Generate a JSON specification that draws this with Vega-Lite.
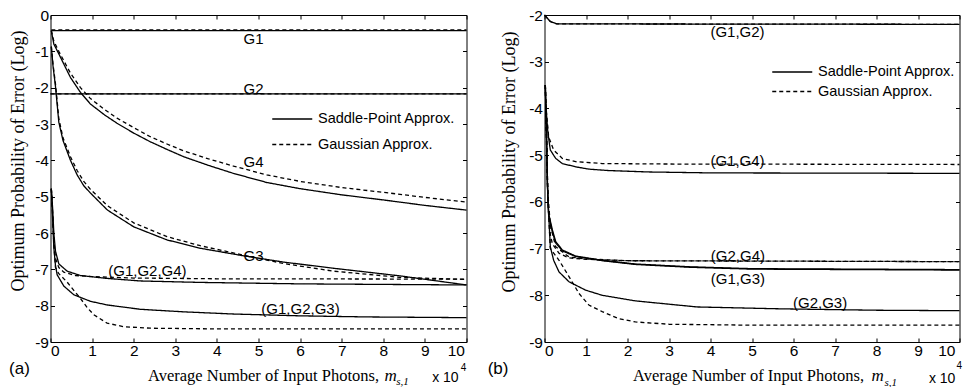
{
  "$schema": "https://vega.github.io/schema/vega-lite/v6.json",
  "background": "white",
  "padding": {"left": 8.5, "top": 7, "right": 0, "bottom": 0},
  "bounds": "flush",
  "spacing": 78,
  "config": {
    "view": {"stroke": "black", "strokeWidth": 1},
    "axis": {
      "grid": false, "domain": false, "tickColor": "black", "tickSize": -4, "tickWidth": 1,
      "labelFont": "Liberation Sans", "labelFontSize": 15.5, "labelColor": "black",
      "titleFont": "Liberation Serif", "titleFontSize": 16.5, "titleFontWeight": "normal", "titleColor": "black"
    },
    "legend": {
      "orient": "none", "title": null, "symbolType": "M-4,0H4", "symbolSize": 100,
      "symbolStrokeWidth": 1.3, "symbolStrokeColor": "black",
      "labelFont": "Liberation Sans", "labelFontSize": 14.5, "labelColor": "black",
      "labelOffset": 18.5, "padding": 0
    },
    "text": {"font": "Liberation Sans", "color": "black"}
  },
  "datasets": {
    "curvesA": [
      {"curve": "G1", "method": "Saddle-Point Approx.", "x": 0.02, "y": -0.43},
      {"curve": "G1", "method": "Saddle-Point Approx.", "x": 10, "y": -0.43},
      {"curve": "G1", "method": "Gaussian Approx.", "x": 0.02, "y": -0.41},
      {"curve": "G1", "method": "Gaussian Approx.", "x": 10, "y": -0.41},
      {"curve": "G2", "method": "Saddle-Point Approx.", "x": 0, "y": -2.17},
      {"curve": "G2", "method": "Saddle-Point Approx.", "x": 10, "y": -2.17},
      {"curve": "G2", "method": "Gaussian Approx.", "x": 0, "y": -2.17},
      {"curve": "G2", "method": "Gaussian Approx.", "x": 10, "y": -2.17},
      {"curve": "G4", "method": "Saddle-Point Approx.", "x": 0.02, "y": -0.43},
      {"curve": "G4", "method": "Saddle-Point Approx.", "x": 0.08, "y": -0.8},
      {"curve": "G4", "method": "Saddle-Point Approx.", "x": 0.2, "y": -1.07},
      {"curve": "G4", "method": "Saddle-Point Approx.", "x": 0.32, "y": -1.35},
      {"curve": "G4", "method": "Saddle-Point Approx.", "x": 0.48, "y": -1.72},
      {"curve": "G4", "method": "Saddle-Point Approx.", "x": 0.72, "y": -2.13},
      {"curve": "G4", "method": "Saddle-Point Approx.", "x": 0.96, "y": -2.45},
      {"curve": "G4", "method": "Saddle-Point Approx.", "x": 1.3, "y": -2.75},
      {"curve": "G4", "method": "Saddle-Point Approx.", "x": 1.6, "y": -2.98},
      {"curve": "G4", "method": "Saddle-Point Approx.", "x": 2.0, "y": -3.25},
      {"curve": "G4", "method": "Saddle-Point Approx.", "x": 2.4, "y": -3.49},
      {"curve": "G4", "method": "Saddle-Point Approx.", "x": 2.8, "y": -3.7},
      {"curve": "G4", "method": "Saddle-Point Approx.", "x": 3.2, "y": -3.9},
      {"curve": "G4", "method": "Saddle-Point Approx.", "x": 3.8, "y": -4.14},
      {"curve": "G4", "method": "Saddle-Point Approx.", "x": 4.4, "y": -4.36},
      {"curve": "G4", "method": "Saddle-Point Approx.", "x": 5.2, "y": -4.61},
      {"curve": "G4", "method": "Saddle-Point Approx.", "x": 6.0, "y": -4.78},
      {"curve": "G4", "method": "Saddle-Point Approx.", "x": 7.0, "y": -4.95},
      {"curve": "G4", "method": "Saddle-Point Approx.", "x": 8.0, "y": -5.09},
      {"curve": "G4", "method": "Saddle-Point Approx.", "x": 9.0, "y": -5.24},
      {"curve": "G4", "method": "Saddle-Point Approx.", "x": 10, "y": -5.37},
      {"curve": "G4", "method": "Gaussian Approx.", "x": 0.02, "y": -0.43},
      {"curve": "G4", "method": "Gaussian Approx.", "x": 0.08, "y": -0.72},
      {"curve": "G4", "method": "Gaussian Approx.", "x": 0.2, "y": -1.0},
      {"curve": "G4", "method": "Gaussian Approx.", "x": 0.32, "y": -1.26},
      {"curve": "G4", "method": "Gaussian Approx.", "x": 0.48, "y": -1.6},
      {"curve": "G4", "method": "Gaussian Approx.", "x": 0.72, "y": -2.0},
      {"curve": "G4", "method": "Gaussian Approx.", "x": 0.96, "y": -2.3},
      {"curve": "G4", "method": "Gaussian Approx.", "x": 1.3, "y": -2.6},
      {"curve": "G4", "method": "Gaussian Approx.", "x": 1.6, "y": -2.84},
      {"curve": "G4", "method": "Gaussian Approx.", "x": 2.0, "y": -3.1},
      {"curve": "G4", "method": "Gaussian Approx.", "x": 2.4, "y": -3.35},
      {"curve": "G4", "method": "Gaussian Approx.", "x": 2.8, "y": -3.55},
      {"curve": "G4", "method": "Gaussian Approx.", "x": 3.2, "y": -3.74},
      {"curve": "G4", "method": "Gaussian Approx.", "x": 3.8, "y": -3.96},
      {"curve": "G4", "method": "Gaussian Approx.", "x": 4.4, "y": -4.16},
      {"curve": "G4", "method": "Gaussian Approx.", "x": 5.2, "y": -4.4},
      {"curve": "G4", "method": "Gaussian Approx.", "x": 6.0, "y": -4.58},
      {"curve": "G4", "method": "Gaussian Approx.", "x": 7.0, "y": -4.75},
      {"curve": "G4", "method": "Gaussian Approx.", "x": 8.0, "y": -4.88},
      {"curve": "G4", "method": "Gaussian Approx.", "x": 9.0, "y": -5.02},
      {"curve": "G4", "method": "Gaussian Approx.", "x": 10, "y": -5.15},
      {"curve": "G3", "method": "Saddle-Point Approx.", "x": 0.02, "y": -0.87},
      {"curve": "G3", "method": "Saddle-Point Approx.", "x": 0.06, "y": -1.4},
      {"curve": "G3", "method": "Saddle-Point Approx.", "x": 0.12, "y": -1.97},
      {"curve": "G3", "method": "Saddle-Point Approx.", "x": 0.2, "y": -2.95},
      {"curve": "G3", "method": "Saddle-Point Approx.", "x": 0.3, "y": -3.45},
      {"curve": "G3", "method": "Saddle-Point Approx.", "x": 0.48, "y": -4.0},
      {"curve": "G3", "method": "Saddle-Point Approx.", "x": 0.64, "y": -4.4},
      {"curve": "G3", "method": "Saddle-Point Approx.", "x": 0.8, "y": -4.7},
      {"curve": "G3", "method": "Saddle-Point Approx.", "x": 0.96, "y": -4.9},
      {"curve": "G3", "method": "Saddle-Point Approx.", "x": 1.37, "y": -5.37},
      {"curve": "G3", "method": "Saddle-Point Approx.", "x": 2.0, "y": -5.83},
      {"curve": "G3", "method": "Saddle-Point Approx.", "x": 2.8, "y": -6.19},
      {"curve": "G3", "method": "Saddle-Point Approx.", "x": 3.6, "y": -6.42},
      {"curve": "G3", "method": "Saddle-Point Approx.", "x": 4.6, "y": -6.62},
      {"curve": "G3", "method": "Saddle-Point Approx.", "x": 5.6, "y": -6.8},
      {"curve": "G3", "method": "Saddle-Point Approx.", "x": 6.8, "y": -6.97},
      {"curve": "G3", "method": "Saddle-Point Approx.", "x": 8.4, "y": -7.18},
      {"curve": "G3", "method": "Saddle-Point Approx.", "x": 10, "y": -7.43},
      {"curve": "G3", "method": "Gaussian Approx.", "x": 0.02, "y": -0.87},
      {"curve": "G3", "method": "Gaussian Approx.", "x": 0.06, "y": -1.35},
      {"curve": "G3", "method": "Gaussian Approx.", "x": 0.12, "y": -1.9},
      {"curve": "G3", "method": "Gaussian Approx.", "x": 0.2, "y": -2.85},
      {"curve": "G3", "method": "Gaussian Approx.", "x": 0.3, "y": -3.38},
      {"curve": "G3", "method": "Gaussian Approx.", "x": 0.48, "y": -3.9},
      {"curve": "G3", "method": "Gaussian Approx.", "x": 0.64, "y": -4.28},
      {"curve": "G3", "method": "Gaussian Approx.", "x": 0.8, "y": -4.58},
      {"curve": "G3", "method": "Gaussian Approx.", "x": 0.96, "y": -4.8},
      {"curve": "G3", "method": "Gaussian Approx.", "x": 1.37, "y": -5.25},
      {"curve": "G3", "method": "Gaussian Approx.", "x": 2.0, "y": -5.72},
      {"curve": "G3", "method": "Gaussian Approx.", "x": 2.8, "y": -6.1},
      {"curve": "G3", "method": "Gaussian Approx.", "x": 3.6, "y": -6.35},
      {"curve": "G3", "method": "Gaussian Approx.", "x": 4.6, "y": -6.6},
      {"curve": "G3", "method": "Gaussian Approx.", "x": 5.6, "y": -6.84},
      {"curve": "G3", "method": "Gaussian Approx.", "x": 6.8, "y": -7.05},
      {"curve": "G3", "method": "Gaussian Approx.", "x": 8.4, "y": -7.22},
      {"curve": "G3", "method": "Gaussian Approx.", "x": 10, "y": -7.28},
      {"curve": "G1G2G4", "method": "Saddle-Point Approx.", "x": 0.02, "y": -4.78},
      {"curve": "G1G2G4", "method": "Saddle-Point Approx.", "x": 0.05, "y": -5.3},
      {"curve": "G1G2G4", "method": "Saddle-Point Approx.", "x": 0.08, "y": -6.0},
      {"curve": "G1G2G4", "method": "Saddle-Point Approx.", "x": 0.12, "y": -6.5},
      {"curve": "G1G2G4", "method": "Saddle-Point Approx.", "x": 0.2, "y": -6.85},
      {"curve": "G1G2G4", "method": "Saddle-Point Approx.", "x": 0.4, "y": -7.05},
      {"curve": "G1G2G4", "method": "Saddle-Point Approx.", "x": 0.72, "y": -7.17},
      {"curve": "G1G2G4", "method": "Saddle-Point Approx.", "x": 1.36, "y": -7.25},
      {"curve": "G1G2G4", "method": "Saddle-Point Approx.", "x": 2.16, "y": -7.32},
      {"curve": "G1G2G4", "method": "Saddle-Point Approx.", "x": 3.6, "y": -7.36},
      {"curve": "G1G2G4", "method": "Saddle-Point Approx.", "x": 6.0, "y": -7.4},
      {"curve": "G1G2G4", "method": "Saddle-Point Approx.", "x": 10, "y": -7.43},
      {"curve": "G1G2G4", "method": "Gaussian Approx.", "x": 0.02, "y": -4.78},
      {"curve": "G1G2G4", "method": "Gaussian Approx.", "x": 0.05, "y": -5.4},
      {"curve": "G1G2G4", "method": "Gaussian Approx.", "x": 0.08, "y": -6.2},
      {"curve": "G1G2G4", "method": "Gaussian Approx.", "x": 0.12, "y": -6.7},
      {"curve": "G1G2G4", "method": "Gaussian Approx.", "x": 0.2, "y": -6.95},
      {"curve": "G1G2G4", "method": "Gaussian Approx.", "x": 0.32, "y": -7.08},
      {"curve": "G1G2G4", "method": "Gaussian Approx.", "x": 0.6, "y": -7.17},
      {"curve": "G1G2G4", "method": "Gaussian Approx.", "x": 1.0, "y": -7.2},
      {"curve": "G1G2G4", "method": "Gaussian Approx.", "x": 2.0, "y": -7.24},
      {"curve": "G1G2G4", "method": "Gaussian Approx.", "x": 4.0, "y": -7.26},
      {"curve": "G1G2G4", "method": "Gaussian Approx.", "x": 10, "y": -7.27},
      {"curve": "G1G2G3", "method": "Saddle-Point Approx.", "x": 0.02, "y": -4.78},
      {"curve": "G1G2G3", "method": "Saddle-Point Approx.", "x": 0.05, "y": -5.6},
      {"curve": "G1G2G3", "method": "Saddle-Point Approx.", "x": 0.08, "y": -6.4},
      {"curve": "G1G2G3", "method": "Saddle-Point Approx.", "x": 0.12, "y": -6.9},
      {"curve": "G1G2G3", "method": "Saddle-Point Approx.", "x": 0.16, "y": -7.15},
      {"curve": "G1G2G3", "method": "Saddle-Point Approx.", "x": 0.32, "y": -7.46},
      {"curve": "G1G2G3", "method": "Saddle-Point Approx.", "x": 0.56, "y": -7.7},
      {"curve": "G1G2G3", "method": "Saddle-Point Approx.", "x": 0.96, "y": -7.88},
      {"curve": "G1G2G3", "method": "Saddle-Point Approx.", "x": 1.36, "y": -7.98},
      {"curve": "G1G2G3", "method": "Saddle-Point Approx.", "x": 2.16, "y": -8.1},
      {"curve": "G1G2G3", "method": "Saddle-Point Approx.", "x": 3.2, "y": -8.17},
      {"curve": "G1G2G3", "method": "Saddle-Point Approx.", "x": 4.4, "y": -8.23},
      {"curve": "G1G2G3", "method": "Saddle-Point Approx.", "x": 6.0, "y": -8.28},
      {"curve": "G1G2G3", "method": "Saddle-Point Approx.", "x": 7.6, "y": -8.31},
      {"curve": "G1G2G3", "method": "Saddle-Point Approx.", "x": 10, "y": -8.33},
      {"curve": "G1G2G3", "method": "Gaussian Approx.", "x": 0.02, "y": -4.78},
      {"curve": "G1G2G3", "method": "Gaussian Approx.", "x": 0.05, "y": -5.5},
      {"curve": "G1G2G3", "method": "Gaussian Approx.", "x": 0.08, "y": -6.3},
      {"curve": "G1G2G3", "method": "Gaussian Approx.", "x": 0.12, "y": -6.95},
      {"curve": "G1G2G3", "method": "Gaussian Approx.", "x": 0.2, "y": -7.12},
      {"curve": "G1G2G3", "method": "Gaussian Approx.", "x": 0.4, "y": -7.35},
      {"curve": "G1G2G3", "method": "Gaussian Approx.", "x": 0.56, "y": -7.58},
      {"curve": "G1G2G3", "method": "Gaussian Approx.", "x": 0.72, "y": -7.8},
      {"curve": "G1G2G3", "method": "Gaussian Approx.", "x": 0.88, "y": -8.05},
      {"curve": "G1G2G3", "method": "Gaussian Approx.", "x": 1.04, "y": -8.25},
      {"curve": "G1G2G3", "method": "Gaussian Approx.", "x": 1.36, "y": -8.48},
      {"curve": "G1G2G3", "method": "Gaussian Approx.", "x": 1.76, "y": -8.58},
      {"curve": "G1G2G3", "method": "Gaussian Approx.", "x": 2.4, "y": -8.62},
      {"curve": "G1G2G3", "method": "Gaussian Approx.", "x": 4.0, "y": -8.64},
      {"curve": "G1G2G3", "method": "Gaussian Approx.", "x": 10, "y": -8.64}
    ],
    "curvesB": [
      {"curve": "G1G2", "method": "Saddle-Point Approx.", "x": 0.0, "y": -2.0},
      {"curve": "G1G2", "method": "Saddle-Point Approx.", "x": 0.14, "y": -2.14},
      {"curve": "G1G2", "method": "Saddle-Point Approx.", "x": 0.3, "y": -2.19},
      {"curve": "G1G2", "method": "Saddle-Point Approx.", "x": 10, "y": -2.2},
      {"curve": "G1G2", "method": "Gaussian Approx.", "x": 0.0, "y": -2.0},
      {"curve": "G1G2", "method": "Gaussian Approx.", "x": 0.14, "y": -2.14},
      {"curve": "G1G2", "method": "Gaussian Approx.", "x": 0.3, "y": -2.19},
      {"curve": "G1G2", "method": "Gaussian Approx.", "x": 10, "y": -2.2},
      {"curve": "G1G4", "method": "Saddle-Point Approx.", "x": 0.03, "y": -3.9},
      {"curve": "G1G4", "method": "Saddle-Point Approx.", "x": 0.08, "y": -4.5},
      {"curve": "G1G4", "method": "Saddle-Point Approx.", "x": 0.14, "y": -4.89},
      {"curve": "G1G4", "method": "Saddle-Point Approx.", "x": 0.27, "y": -5.07},
      {"curve": "G1G4", "method": "Saddle-Point Approx.", "x": 0.43, "y": -5.18},
      {"curve": "G1G4", "method": "Saddle-Point Approx.", "x": 0.75, "y": -5.25},
      {"curve": "G1G4", "method": "Saddle-Point Approx.", "x": 1.07, "y": -5.3},
      {"curve": "G1G4", "method": "Saddle-Point Approx.", "x": 1.55, "y": -5.33},
      {"curve": "G1G4", "method": "Saddle-Point Approx.", "x": 2.5, "y": -5.36},
      {"curve": "G1G4", "method": "Saddle-Point Approx.", "x": 4.0, "y": -5.38},
      {"curve": "G1G4", "method": "Saddle-Point Approx.", "x": 10, "y": -5.39},
      {"curve": "G1G4", "method": "Gaussian Approx.", "x": 0.03, "y": -3.9},
      {"curve": "G1G4", "method": "Gaussian Approx.", "x": 0.1, "y": -4.61},
      {"curve": "G1G4", "method": "Gaussian Approx.", "x": 0.22, "y": -4.89},
      {"curve": "G1G4", "method": "Gaussian Approx.", "x": 0.43, "y": -5.07},
      {"curve": "G1G4", "method": "Gaussian Approx.", "x": 0.75, "y": -5.14},
      {"curve": "G1G4", "method": "Gaussian Approx.", "x": 1.39, "y": -5.18},
      {"curve": "G1G4", "method": "Gaussian Approx.", "x": 3.0, "y": -5.19},
      {"curve": "G1G4", "method": "Gaussian Approx.", "x": 10, "y": -5.2},
      {"curve": "G2G4", "method": "Saddle-Point Approx.", "x": 0.02, "y": -3.5},
      {"curve": "G2G4", "method": "Saddle-Point Approx.", "x": 0.05, "y": -4.6},
      {"curve": "G2G4", "method": "Saddle-Point Approx.", "x": 0.07, "y": -5.6},
      {"curve": "G2G4", "method": "Saddle-Point Approx.", "x": 0.1, "y": -6.25},
      {"curve": "G2G4", "method": "Saddle-Point Approx.", "x": 0.19, "y": -6.6},
      {"curve": "G2G4", "method": "Saddle-Point Approx.", "x": 0.27, "y": -6.85},
      {"curve": "G2G4", "method": "Saddle-Point Approx.", "x": 0.43, "y": -7.03},
      {"curve": "G2G4", "method": "Saddle-Point Approx.", "x": 0.75, "y": -7.16},
      {"curve": "G2G4", "method": "Saddle-Point Approx.", "x": 1.39, "y": -7.25},
      {"curve": "G2G4", "method": "Saddle-Point Approx.", "x": 2.19, "y": -7.33},
      {"curve": "G2G4", "method": "Saddle-Point Approx.", "x": 3.5, "y": -7.39},
      {"curve": "G2G4", "method": "Saddle-Point Approx.", "x": 5.0, "y": -7.43},
      {"curve": "G2G4", "method": "Saddle-Point Approx.", "x": 10, "y": -7.45},
      {"curve": "G1G3", "method": "Saddle-Point Approx.", "x": 0.02, "y": -3.5},
      {"curve": "G1G3", "method": "Saddle-Point Approx.", "x": 0.05, "y": -4.65},
      {"curve": "G1G3", "method": "Saddle-Point Approx.", "x": 0.07, "y": -5.65},
      {"curve": "G1G3", "method": "Saddle-Point Approx.", "x": 0.1, "y": -6.3},
      {"curve": "G1G3", "method": "Saddle-Point Approx.", "x": 0.19, "y": -6.65},
      {"curve": "G1G3", "method": "Saddle-Point Approx.", "x": 0.27, "y": -6.88},
      {"curve": "G1G3", "method": "Saddle-Point Approx.", "x": 0.43, "y": -7.05},
      {"curve": "G1G3", "method": "Saddle-Point Approx.", "x": 0.75, "y": -7.17},
      {"curve": "G1G3", "method": "Saddle-Point Approx.", "x": 1.39, "y": -7.26},
      {"curve": "G1G3", "method": "Saddle-Point Approx.", "x": 2.19, "y": -7.34},
      {"curve": "G1G3", "method": "Saddle-Point Approx.", "x": 3.5, "y": -7.4},
      {"curve": "G1G3", "method": "Saddle-Point Approx.", "x": 5.0, "y": -7.44},
      {"curve": "G1G3", "method": "Saddle-Point Approx.", "x": 10, "y": -7.46},
      {"curve": "G2G4", "method": "Gaussian Approx.", "x": 0.02, "y": -3.5},
      {"curve": "G2G4", "method": "Gaussian Approx.", "x": 0.05, "y": -4.6},
      {"curve": "G2G4", "method": "Gaussian Approx.", "x": 0.08, "y": -5.8},
      {"curve": "G2G4", "method": "Gaussian Approx.", "x": 0.14, "y": -6.5},
      {"curve": "G2G4", "method": "Gaussian Approx.", "x": 0.27, "y": -6.96},
      {"curve": "G2G4", "method": "Gaussian Approx.", "x": 0.59, "y": -7.18},
      {"curve": "G2G4", "method": "Gaussian Approx.", "x": 1.0, "y": -7.22},
      {"curve": "G2G4", "method": "Gaussian Approx.", "x": 2.0, "y": -7.26},
      {"curve": "G2G4", "method": "Gaussian Approx.", "x": 10, "y": -7.28},
      {"curve": "G1G3", "method": "Gaussian Approx.", "x": 0.02, "y": -3.5},
      {"curve": "G1G3", "method": "Gaussian Approx.", "x": 0.05, "y": -4.6},
      {"curve": "G1G3", "method": "Gaussian Approx.", "x": 0.08, "y": -5.9},
      {"curve": "G1G3", "method": "Gaussian Approx.", "x": 0.14, "y": -6.7},
      {"curve": "G1G3", "method": "Gaussian Approx.", "x": 0.19, "y": -6.9},
      {"curve": "G1G3", "method": "Gaussian Approx.", "x": 0.35, "y": -7.1},
      {"curve": "G1G3", "method": "Gaussian Approx.", "x": 0.59, "y": -7.2},
      {"curve": "G1G3", "method": "Gaussian Approx.", "x": 1.0, "y": -7.23},
      {"curve": "G1G3", "method": "Gaussian Approx.", "x": 2.0, "y": -7.26},
      {"curve": "G1G3", "method": "Gaussian Approx.", "x": 10, "y": -7.28},
      {"curve": "G2G3", "method": "Saddle-Point Approx.", "x": 0.02, "y": -3.5},
      {"curve": "G2G3", "method": "Saddle-Point Approx.", "x": 0.05, "y": -4.8},
      {"curve": "G2G3", "method": "Saddle-Point Approx.", "x": 0.08, "y": -5.9},
      {"curve": "G2G3", "method": "Saddle-Point Approx.", "x": 0.14, "y": -6.96},
      {"curve": "G2G3", "method": "Saddle-Point Approx.", "x": 0.22, "y": -7.25},
      {"curve": "G2G3", "method": "Saddle-Point Approx.", "x": 0.35, "y": -7.5},
      {"curve": "G2G3", "method": "Saddle-Point Approx.", "x": 0.59, "y": -7.71},
      {"curve": "G2G3", "method": "Saddle-Point Approx.", "x": 0.99, "y": -7.89},
      {"curve": "G2G3", "method": "Saddle-Point Approx.", "x": 1.39, "y": -8.0},
      {"curve": "G2G3", "method": "Saddle-Point Approx.", "x": 2.19, "y": -8.12},
      {"curve": "G2G3", "method": "Saddle-Point Approx.", "x": 3.68, "y": -8.25},
      {"curve": "G2G3", "method": "Saddle-Point Approx.", "x": 5.69, "y": -8.29},
      {"curve": "G2G3", "method": "Saddle-Point Approx.", "x": 8.0, "y": -8.32},
      {"curve": "G2G3", "method": "Saddle-Point Approx.", "x": 10, "y": -8.33},
      {"curve": "G2G3", "method": "Gaussian Approx.", "x": 0.02, "y": -3.5},
      {"curve": "G2G3", "method": "Gaussian Approx.", "x": 0.05, "y": -4.8},
      {"curve": "G2G3", "method": "Gaussian Approx.", "x": 0.08, "y": -5.9},
      {"curve": "G2G3", "method": "Gaussian Approx.", "x": 0.14, "y": -7.0},
      {"curve": "G2G3", "method": "Gaussian Approx.", "x": 0.35, "y": -7.25},
      {"curve": "G2G3", "method": "Gaussian Approx.", "x": 0.59, "y": -7.6},
      {"curve": "G2G3", "method": "Gaussian Approx.", "x": 0.83, "y": -7.96},
      {"curve": "G2G3", "method": "Gaussian Approx.", "x": 1.07, "y": -8.21},
      {"curve": "G2G3", "method": "Gaussian Approx.", "x": 1.39, "y": -8.35},
      {"curve": "G2G3", "method": "Gaussian Approx.", "x": 1.79, "y": -8.5},
      {"curve": "G2G3", "method": "Gaussian Approx.", "x": 2.19, "y": -8.57},
      {"curve": "G2G3", "method": "Gaussian Approx.", "x": 3.0, "y": -8.62},
      {"curve": "G2G3", "method": "Gaussian Approx.", "x": 5.0, "y": -8.64},
      {"curve": "G2G3", "method": "Gaussian Approx.", "x": 10, "y": -8.64}
    ],
    "notesA": [
      {"role": "curve", "x": 4.88, "y": -0.66, "label": "G1"},
      {"role": "curve", "x": 4.88, "y": -2.04, "label": "G2"},
      {"role": "curve", "x": 4.88, "y": -4.05, "label": "G4"},
      {"role": "curve", "x": 4.88, "y": -6.63, "label": "G3"},
      {"role": "curve", "x": 2.33, "y": -7.05, "label": "(G1,G2,G4)"},
      {"role": "curve", "x": 6.01, "y": -8.09, "label": "(G1,G2,G3)"},
      {"role": "panel", "x": -0.745, "y": -9.73, "label": "(a)"},
      {"role": "scale", "x": 9.81, "y": -10.09, "label": "x 10"},
      {"role": "power", "x": 9.86, "y": -9.79, "label": "4"},
      {"role": "symbol", "x": 8.03, "y": -10.07, "label": "m"},
      {"role": "subscript", "x": 8.31, "y": -10.18, "label": "s,1"}
    ],
    "notesB": [
      {"role": "curve", "x": 4.65, "y": -2.37, "label": "(G1,G2)"},
      {"role": "curve", "x": 4.65, "y": -5.12, "label": "(G1,G4)"},
      {"role": "curve", "x": 4.66, "y": -7.16, "label": "(G2,G4)"},
      {"role": "curve", "x": 4.66, "y": -7.65, "label": "(G1,G3)"},
      {"role": "curve", "x": 6.64, "y": -8.16, "label": "(G2,G3)"},
      {"role": "panel", "x": -1.12, "y": -9.57, "label": "(b)"},
      {"role": "scale", "x": 9.9, "y": -9.87, "label": "x 10"},
      {"role": "power", "x": 9.93, "y": -9.57, "label": "4"},
      {"role": "symbol", "x": 7.88, "y": -9.83, "label": "m"},
      {"role": "subscript", "x": 8.19, "y": -9.94, "label": "s,1"}
    ]
  },
  "resolve": {"scale": {"strokeDash": "independent"}, "legend": {"strokeDash": "independent"}},
  "hconcat": [
    {
      "width": 416,
      "height": 327,
      "resolve": {"axis": {"x": "independent", "y": "independent"}},
      "layer": [
        {
          "data": {"name": "curvesA"},
          "mark": {"type": "line", "color": "black", "strokeWidth": 1.3},
          "encoding": {
            "x": {"field": "x", "type": "quantitative", "scale": {"domain": [0, 10], "nice": false},
              "axis": {"values": [0, 1, 2, 3, 4, 5, 6, 7, 8, 9, 10], "labelPadding": 5,
                "labelOffset": {"condition": {"test": "datum.value == 10", "value": -2}, "value": 0},
                "title": "Average Number of Input Photons,", "titleX": 97, "titleY": 38.5,
                "titleAlign": "left", "titleBaseline": "alphabetic"}},
            "y": {"field": "y", "type": "quantitative", "scale": {"domain": [-9, 0], "nice": false},
              "axis": {"values": [-9, -8, -7, -6, -5, -4, -3, -2, -1, 0], "labelPadding": 6,
                "labelExpr": "datum.value < 0 ? '-' + (-datum.value) : '' + datum.value",
                "title": "Optimum Probability of Error (Log)", "titleFontSize": 18,
                "titleX": -32.5, "titleY": 145.5, "titleAngle": -90, "titleAlign": "center", "titleBaseline": "middle"}},
            "detail": {"field": "curve"},
            "strokeDash": {"field": "method", "type": "nominal",
              "scale": {"domain": ["Saddle-Point Approx.", "Gaussian Approx."], "range": [[1, 0], [4, 3]]},
              "legend": {"legendX": 234.5, "legendY": 96.75, "rowPadding": 10.5}}
          }
        },
        {
          "data": {"name": "notesA"},
          "transform": [{"filter": "datum.role == 'curve'"}],
          "mark": {"type": "text", "fontSize": 15, "baseline": "middle"},
          "encoding": {
            "x": {"field": "x", "type": "quantitative", "axis": {"orient": "top", "labels": false, "title": null, "values": [0, 1, 2, 3, 4, 5, 6, 7, 8, 9, 10]}},
            "y": {"field": "y", "type": "quantitative", "axis": {"orient": "right", "labels": false, "title": null, "values": [-9, -8, -7, -6, -5, -4, -3, -2, -1, 0]}},
            "text": {"field": "label"}
          }
        },
        {
          "data": {"name": "notesA"},
          "transform": [{"filter": "datum.role == 'panel'"}],
          "mark": {"type": "text", "fontSize": 17, "baseline": "middle"},
          "encoding": {
            "x": {"field": "x", "type": "quantitative", "axis": null},
            "y": {"field": "y", "type": "quantitative", "axis": null},
            "text": {"field": "label"}
          }
        },
        {
          "data": {"name": "notesA"},
          "transform": [{"filter": "datum.role == 'scale'"}],
          "mark": {"type": "text", "fontSize": 14, "align": "right", "baseline": "alphabetic"},
          "encoding": {
            "x": {"field": "x", "type": "quantitative", "axis": null},
            "y": {"field": "y", "type": "quantitative", "axis": null},
            "text": {"field": "label"}
          }
        },
        {
          "data": {"name": "notesA"},
          "transform": [{"filter": "datum.role == 'power'"}],
          "mark": {"type": "text", "fontSize": 10, "align": "left", "baseline": "alphabetic"},
          "encoding": {
            "x": {"field": "x", "type": "quantitative", "axis": null},
            "y": {"field": "y", "type": "quantitative", "axis": null},
            "text": {"field": "label"}
          }
        },
        {
          "data": {"name": "notesA"},
          "transform": [{"filter": "datum.role == 'symbol'"}],
          "mark": {"type": "text", "font": "Liberation Serif", "fontStyle": "italic", "fontSize": 17, "align": "left", "baseline": "alphabetic"},
          "encoding": {
            "x": {"field": "x", "type": "quantitative", "axis": null},
            "y": {"field": "y", "type": "quantitative", "axis": null},
            "text": {"field": "label"}
          }
        },
        {
          "data": {"name": "notesA"},
          "transform": [{"filter": "datum.role == 'subscript'"}],
          "mark": {"type": "text", "font": "Liberation Serif", "fontStyle": "italic", "fontSize": 11, "align": "left", "baseline": "alphabetic"},
          "encoding": {
            "x": {"field": "x", "type": "quantitative", "axis": null},
            "y": {"field": "y", "type": "quantitative", "axis": null},
            "text": {"field": "label"}
          }
        }
      ]
    },
    {
      "width": 415,
      "height": 327,
      "resolve": {"axis": {"x": "independent", "y": "independent"}},
      "layer": [
        {
          "data": {"name": "curvesB"},
          "mark": {"type": "line", "color": "black", "strokeWidth": 1.3},
          "encoding": {
            "x": {"field": "x", "type": "quantitative", "scale": {"domain": [0, 10], "nice": false},
              "axis": {"values": [0, 1, 2, 3, 4, 5, 6, 7, 8, 9, 10], "labelPadding": 5,
                "labelOffset": {"condition": {"test": "datum.value == 10", "value": -4.5}, "value": 0},
                "title": "Average Number of Input Photons,", "titleX": 88, "titleY": 38.5,
                "titleAlign": "left", "titleBaseline": "alphabetic"}},
            "y": {"field": "y", "type": "quantitative", "scale": {"domain": [-9, -2], "nice": false},
              "axis": {"values": [-9, -8, -7, -6, -5, -4, -3, -2], "labelPadding": 6,
                "labelExpr": "datum.value < 0 ? '-' + (-datum.value) : '' + datum.value",
                "title": "Optimum Probability of Error (Log)", "titleFontSize": 18,
                "titleX": -35, "titleY": 146.5, "titleAngle": -90, "titleAlign": "center", "titleBaseline": "middle"}},
            "detail": {"field": "curve"},
            "strokeDash": {"field": "method", "type": "nominal",
              "scale": {"domain": ["Saddle-Point Approx.", "Gaussian Approx."], "range": [[1, 0], [4, 3]]},
              "legend": {"legendX": 240.5, "legendY": 49.75, "rowPadding": 4.5}}
          }
        },
        {
          "data": {"name": "notesB"},
          "transform": [{"filter": "datum.role == 'curve'"}],
          "mark": {"type": "text", "fontSize": 15, "baseline": "middle"},
          "encoding": {
            "x": {"field": "x", "type": "quantitative", "axis": {"orient": "top", "labels": false, "title": null, "values": [0, 1, 2, 3, 4, 5, 6, 7, 8, 9, 10]}},
            "y": {"field": "y", "type": "quantitative", "axis": {"orient": "right", "labels": false, "title": null, "values": [-9, -8, -7, -6, -5, -4, -3, -2]}},
            "text": {"field": "label"}
          }
        },
        {
          "data": {"name": "notesB"},
          "transform": [{"filter": "datum.role == 'panel'"}],
          "mark": {"type": "text", "fontSize": 17, "baseline": "middle"},
          "encoding": {
            "x": {"field": "x", "type": "quantitative", "axis": null},
            "y": {"field": "y", "type": "quantitative", "axis": null},
            "text": {"field": "label"}
          }
        },
        {
          "data": {"name": "notesB"},
          "transform": [{"filter": "datum.role == 'scale'"}],
          "mark": {"type": "text", "fontSize": 14, "align": "right", "baseline": "alphabetic"},
          "encoding": {
            "x": {"field": "x", "type": "quantitative", "axis": null},
            "y": {"field": "y", "type": "quantitative", "axis": null},
            "text": {"field": "label"}
          }
        },
        {
          "data": {"name": "notesB"},
          "transform": [{"filter": "datum.role == 'power'"}],
          "mark": {"type": "text", "fontSize": 10, "align": "left", "baseline": "alphabetic"},
          "encoding": {
            "x": {"field": "x", "type": "quantitative", "axis": null},
            "y": {"field": "y", "type": "quantitative", "axis": null},
            "text": {"field": "label"}
          }
        },
        {
          "data": {"name": "notesB"},
          "transform": [{"filter": "datum.role == 'symbol'"}],
          "mark": {"type": "text", "font": "Liberation Serif", "fontStyle": "italic", "fontSize": 17, "align": "left", "baseline": "alphabetic"},
          "encoding": {
            "x": {"field": "x", "type": "quantitative", "axis": null},
            "y": {"field": "y", "type": "quantitative", "axis": null},
            "text": {"field": "label"}
          }
        },
        {
          "data": {"name": "notesB"},
          "transform": [{"filter": "datum.role == 'subscript'"}],
          "mark": {"type": "text", "font": "Liberation Serif", "fontStyle": "italic", "fontSize": 11, "align": "left", "baseline": "alphabetic"},
          "encoding": {
            "x": {"field": "x", "type": "quantitative", "axis": null},
            "y": {"field": "y", "type": "quantitative", "axis": null},
            "text": {"field": "label"}
          }
        }
      ]
    }
  ]
}
